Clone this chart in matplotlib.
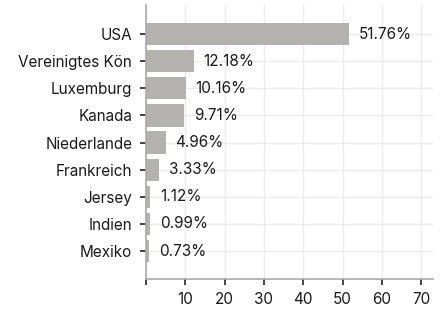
import matplotlib
matplotlib.use("Agg")
import matplotlib.pyplot as plt

countries = ["USA", "Vereinigtes Kön", "Luxemburg", "Kanada", "Niederlande",
             "Frankreich", "Jersey", "Indien", "Mexiko"]
values = [51.76, 12.18, 10.16, 9.71, 4.96, 3.33, 1.12, 0.99, 0.73]
xticks = [0, 10, 20, 30, 40, 50, 60, 70]
xticklabels = ["", "10", "20", "30", "40", "50", "60", "70"]

plt.rcParams['font.family'] = ['Inter', 'DejaVu Sans']

fig = plt.figure(figsize=(4.44, 3.13), dpi=100)
ax = fig.add_axes([0.329, 0.1086, 0.646, 0.8754])

pos = list(range(len(countries)))
ax.barh(pos, values, height=0.82, color="#b3b2ae", zorder=2)
for p, v in zip(pos, values):
    ax.annotate(f"{v:.2f}%", (v, p), xytext=(7, 0), textcoords="offset points",
                va="center", ha="left", fontsize=11, color="#1a1a1a")

ax.set_yticks(pos)
ax.set_yticklabels(countries, fontsize=11, color="#1a1a1a")
ax.set_xticks(xticks)
ax.set_xticklabels(xticklabels, fontsize=11, color="#1a1a1a")
ax.set_xlim(0, 73)
ax.set_ylim(len(countries) - 1 + 1.03, -1.07)

ax.grid(True, color="#ebebeb", linewidth=1, zorder=0)
ax.set_axisbelow(True)
for s in ["top", "right"]:
    ax.spines[s].set_visible(False)
for s in ["left", "bottom"]:
    ax.spines[s].set_color("#aaaaaa")
    ax.spines[s].set_linewidth(1.2)
ax.tick_params(axis="y", length=4, width=1.2, color="#222222", pad=6)
ax.tick_params(axis="x", length=4, width=1.2, color="#222222", pad=5)

fig.savefig("out.png", dpi=100)
